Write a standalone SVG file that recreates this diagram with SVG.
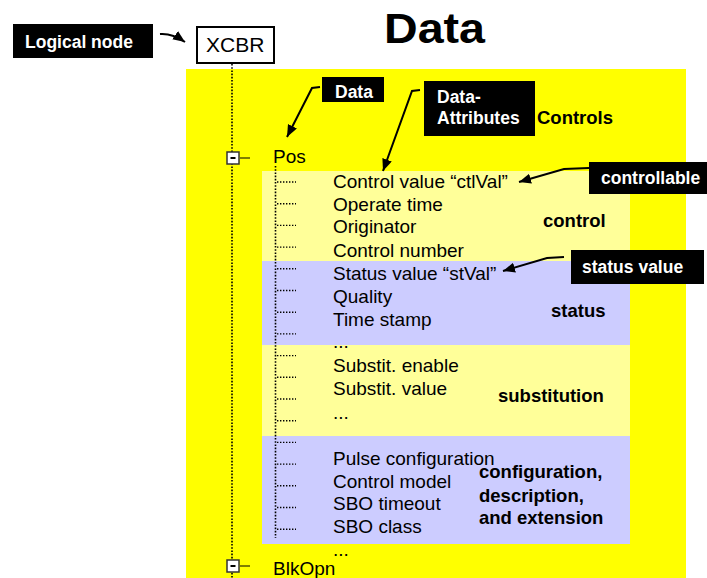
<svg xmlns="http://www.w3.org/2000/svg" width="707" height="578" viewBox="0 0 707 578">
  <style>
    .tag { fill: #000; }
    .tagtext { font-family: "Liberation Sans", Arial, sans-serif; font-weight: bold; font-size: 17.5px; fill: #fff; }
    .row { font-family: "Liberation Sans", Arial, sans-serif; font-size: 19px; fill: #000; }
    .group { font-family: "Liberation Sans", Arial, sans-serif; font-weight: bold; font-size: 18.5px; fill: #000; }
    .tree { stroke: #000; stroke-width: 1.6; stroke-dasharray: 1.6 1.6; fill: none; }
    .leaf { stroke: #000; stroke-width: 1.4; stroke-dasharray: 1.4 1.6; fill: none; }
    .arrow { stroke: #000; stroke-width: 2; fill: none; marker-end: url(#head); }
  </style>
  <defs>
    <marker id="head" markerUnits="userSpaceOnUse" markerWidth="14" markerHeight="12" refX="12" refY="5" orient="auto">
      <path d="M0,0 L12,5 L0,10 Z" fill="#000"/>
    </marker>
    <g id="minus">
      <rect x="0" y="0" width="12" height="12" fill="#fff" stroke="#333" stroke-width="1.5"/>
      <rect x="3.5" y="5" width="5" height="2" fill="#000"/>
    </g>
  </defs>

  <rect width="707" height="578" fill="#fff"/>

  <!-- Title -->
  <text x="384" y="43" font-family="Liberation Sans, Arial, sans-serif" font-weight="bold" font-size="42" textLength="101" lengthAdjust="spacingAndGlyphs">Data</text>

  <!-- Yellow data panel and attribute bands -->
  <g id="panel">
    <rect x="186" y="69" width="500" height="509" fill="#ffff00"/>
    <rect x="262" y="171" width="368" height="90" fill="#ffff99"/>
    <rect x="262" y="261" width="368" height="84" fill="#ccccff"/>
    <rect x="262" y="345" width="368" height="91" fill="#ffff99"/>
    <rect x="262" y="436" width="368" height="108" fill="#ccccff"/>
  </g>

  <!-- Logical node -->
  <g id="node-xcbr">
    <rect x="197" y="27" width="77" height="36" fill="#fff" stroke="#000" stroke-width="2"/>
    <text x="206" y="52" font-family="Liberation Sans, Arial, sans-serif" font-size="21">XCBR</text>
  </g>

  <!-- Tree lines -->
  <g id="connectors">
    <path class="tree" d="M232,64 V578"/>
    <path class="tree" d="M275.5,166 V538"/>
    <path d="M240,158 H250 M240,566 H250" stroke="#000" stroke-width="1.2"/>
    <g class="leaf">
      <path d="M277,182 H296"/>
      <path d="M277,203.7 H296"/>
      <path d="M277,225.4 H296"/>
      <path d="M277,247.1 H296"/>
      <path d="M277,268.8 H296"/>
      <path d="M277,290.5 H296"/>
      <path d="M277,312.2 H296"/>
      <path d="M277,333.9 H296"/>
      <path d="M277,355.6 H296"/>
      <path d="M277,377.3 H296"/>
      <path d="M277,399 H296"/>
      <path d="M277,420.7 H296"/>
      <path d="M277,442.4 H296"/>
      <path d="M277,464.1 H296"/>
      <path d="M277,485.8 H296"/>
      <path d="M277,507.5 H296"/>
      <path d="M277,529.2 H296"/>
    </g>
    <!-- Callout arrows -->
    <path class="arrow" d="M160,34 Q172,33 185,42"/>
    <path class="arrow" d="M320,87 L312,88 L287,137"/>
    <path class="arrow" d="M420,90 L412,91 L383,171"/>
    <path class="arrow" d="M589,168 L564,169 L519,182"/>
    <path class="arrow" d="M564,257 L547,258 L503,271"/>
  </g>

  <!-- Expand/collapse boxes -->
  <g id="toggle-pos"><use href="#minus" x="227" y="152"/></g>
  <g id="toggle-blkopn"><use href="#minus" x="227" y="560"/></g>

  <!-- Data objects -->
  <g id="data-pos"><text class="row" x="273" y="163">Pos</text></g>
  <g id="data-blkopn"><text class="row" x="273" y="575">BlkOpn</text></g>

  <!-- Data attributes -->
  <g id="attributes">
    <text class="row" x="333" y="188">Control value “ctlVal”</text>
    <text class="row" x="333" y="211">Operate time</text>
    <text class="row" x="333" y="233">Originator</text>
    <text class="row" x="333" y="257">Control number</text>
    <text class="row" x="333" y="280">Status value “stVal”</text>
    <text class="row" x="333" y="303">Quality</text>
    <text class="row" x="333" y="326">Time stamp</text>
    <text class="row" x="333" y="348">...</text>
    <text class="row" x="333" y="372">Substit. enable</text>
    <text class="row" x="333" y="395">Substit. value</text>
    <text class="row" x="333" y="419">...</text>
    <text class="row" x="333" y="465">Pulse configuration</text>
    <text class="row" x="333" y="488">Control model</text>
    <text class="row" x="333" y="510">SBO timeout</text>
    <text class="row" x="333" y="533">SBO class</text>
    <text class="row" x="333" y="556">...</text>
  </g>

  <!-- Group labels -->
  <g id="groups">
    <text class="group" x="537" y="124" font-size="21">Controls</text>
    <text class="group" x="543" y="227">control</text>
    <text class="group" x="551" y="317">status</text>
    <text class="group" x="498" y="402">substitution</text>
    <text class="group" x="479" y="478">configuration,</text>
    <text class="group" x="479" y="502">description,</text>
    <text class="group" x="479" y="524">and extension</text>
  </g>

  <!-- Callout tags -->
  <g id="tag-logical-node">
    <rect class="tag" x="13" y="24" width="140" height="34"/>
    <text class="tagtext" x="25" y="48">Logical node</text>
  </g>
  <g id="tag-data">
    <rect class="tag" x="322" y="77" width="62" height="25"/>
    <text class="tagtext" x="335" y="98">Data</text>
  </g>
  <g id="tag-data-attributes">
    <rect class="tag" x="424" y="81" width="111" height="55"/>
    <text class="tagtext" x="437" y="103">Data-</text>
    <text class="tagtext" x="437" y="124">Attributes</text>
  </g>
  <g id="tag-controllable">
    <rect class="tag" x="589" y="162" width="118" height="32"/>
    <text class="tagtext" x="601" y="184">controllable</text>
  </g>
  <g id="tag-status-value">
    <rect class="tag" x="571" y="250" width="133" height="34"/>
    <text class="tagtext" x="582" y="273">status value</text>
  </g>
</svg>
